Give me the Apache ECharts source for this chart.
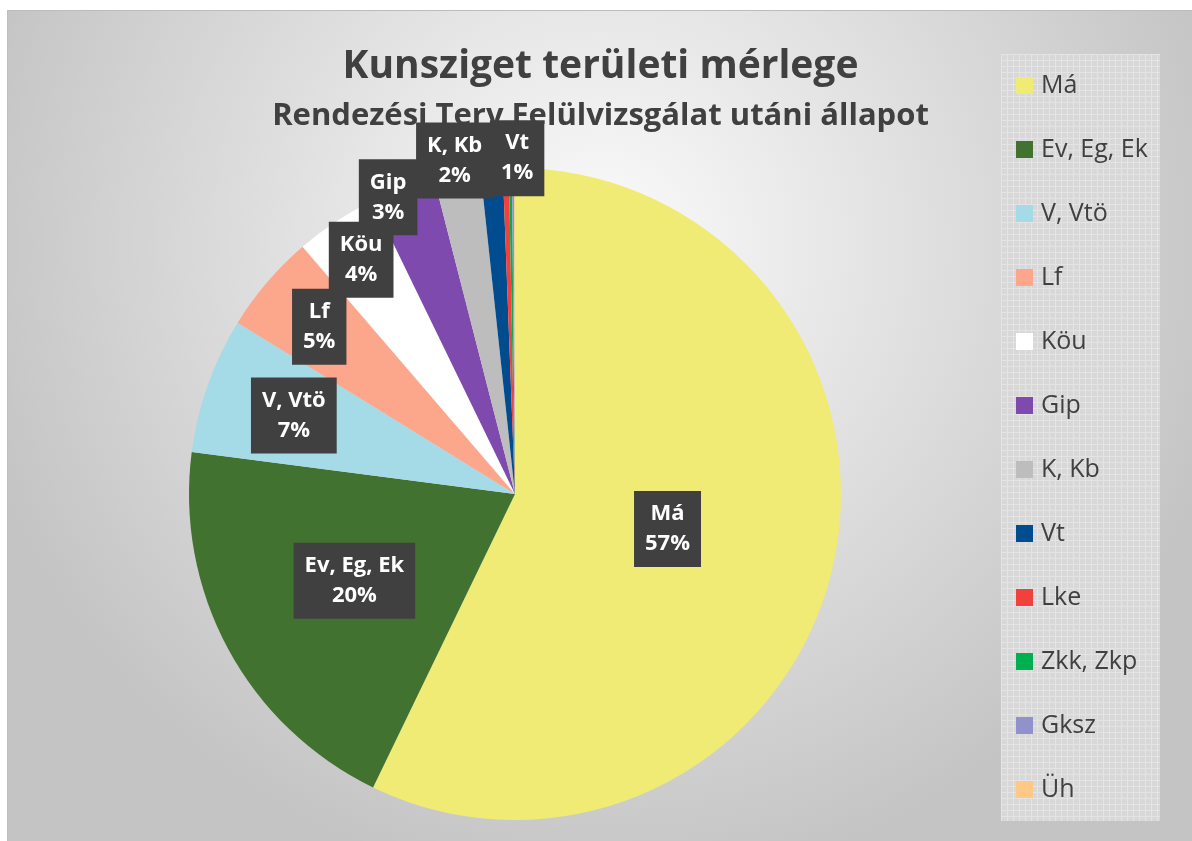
<!DOCTYPE html>
<html lang="hu">
<head>
<meta charset="UTF-8">
<title>Kunsziget területi mérlege</title>
<script src="https://cdn.jsdelivr.net/npm/echarts@6/dist/echarts.min.js"></script>
<style>
body{margin:0;background:#fff}
#main{position:absolute;left:7px;top:10px;width:1185px;height:831px;border-top:1px solid #bcbcbc;border-left:1px solid #c0c0c0}
</style>
</head>
<body>
<div id="main"></div>
<script type="text/javascript">
// területi megoszlás (%)
var names = ['Má', 'Ev, Eg, Ek', 'V, Vtö', 'Lf', 'Köu', 'Gip', 'K, Kb', 'Vt', 'Lke', 'Zkk, Zkp', 'Gksz', 'Üh'];
var values = [57.2, 19.9, 6.75, 4.9, 4.1, 3.2, 2.3, 1.1, 0.3, 0.15, 0.1, 0.05];
var colors = ['#f0eb74', '#42722f', '#a5dbe7', '#fca68b', '#ffffff', '#7f4aad', '#bdbdbd', '#014c8f', '#f2413c', '#00b050', '#9191cc', '#ffc887'];
// címke helye: sugár aránya és szögeltolás (fok)
var labelRadius = [0.48, 0.56, 0.72, 0.79, 0.86, 0.99, 1.04, 1.03, 0, 0, 0, 0];
var labelAngle = [0, 0, 0, 0, 0, -3, 0, 4.5, 0, 0, 0, 0];

var total = 0;
for (var i = 0; i < values.length; i++) total += values[i];

var cx = 507, cy = 483, R = 326;

function gridPattern() {
    var c = document.createElement('canvas');
    c.width = 6; c.height = 6;
    var g = c.getContext('2d');
    g.fillStyle = '#d8d8d8'; g.fillRect(0, 0, 6, 6);
    g.fillStyle = '#e4e4e4'; g.fillRect(0, 0, 6, 1); g.fillRect(0, 0, 1, 6);
    return c;
}

var pieData = [];
for (var i = 0; i < names.length; i++) {
    pieData.push({
        name: names[i],
        value: values[i],
        itemStyle: {color: colors[i]},
        label: {show: labelRadius[i] > 0}
    });
}

// kezdő szög: 12 óra, óramutató irányában
var midAngles = [];
(function () {
    var acc = 0;
    for (var i = 0; i < values.length; i++) {
        midAngles.push((acc + values[i] / 2) / total * 360);
        acc += values[i];
    }
})();

var myChart = echarts.init(document.getElementById('main'));
myChart.setOption({
    animation: false,
    backgroundColor: {
        type: 'radial', x: 0.5, y: 0.28, r: 0.78,
        colorStops: [{offset: 0, color: '#fbfbfb'}, {offset: 1, color: '#c4c4c4'}]
    },
    title: {
        text: 'Kunsziget területi mérlege',
        subtext: 'Rendezési Terv Felülvizsgálat utáni állapot',
        left: 'center',
        top: 31,
        itemGap: 15,
        textStyle: {fontFamily: 'Open Sans', fontWeight: 'bold', fontSize: 39, color: '#404040'},
        subtextStyle: {fontFamily: 'Open Sans', fontWeight: 'bold', fontSize: 31, color: '#404040'}
    },
    graphic: [{
        type: 'rect',
        left: 993, top: 43,
        shape: {width: 159, height: 767},
        style: {fill: {image: gridPattern(), repeat: 'repeat'}},
        z: 0
    }],
    legend: {
        orient: 'vertical',
        left: 1003,
        top: 57,
        itemWidth: 17,
        itemHeight: 17,
        itemGap: 39,
        icon: 'rect',
        data: names,
        textStyle: {fontFamily: 'Open Sans', fontSize: 25, color: '#404040', lineHeight: 24, padding: [0, 0, 0, 3]}
    },
    series: [{
        type: 'pie',
        center: [cx, cy],
        radius: R,
        startAngle: 90,
        clockwise: true,
        data: pieData,
        itemStyle: {borderWidth: 0},
        emphasis: {disabled: true},
        label: {
            position: 'inside',
            formatter: function (p) {
                return p.name + '\n' + Math.round(p.value / total * 100) + '%';
            },
            fontFamily: 'Open Sans',
            fontWeight: 'bold',
            fontSize: 22,
            lineHeight: 30,
            color: '#fff',
            backgroundColor: '#404040',
            padding: [8, 11]
        },
        labelLine: {show: false},
        labelLayout: function (p) {
            var i = p.dataIndex;
            var a = (midAngles[i] + labelAngle[i]) * Math.PI / 180;
            var r = labelRadius[i] * R;
            return {
                x: cx + r * Math.sin(a),
                y: cy - r * Math.cos(a),
                align: 'center',
                verticalAlign: 'middle'
            };
        }
    }]
});
</script>
</body>
</html>
